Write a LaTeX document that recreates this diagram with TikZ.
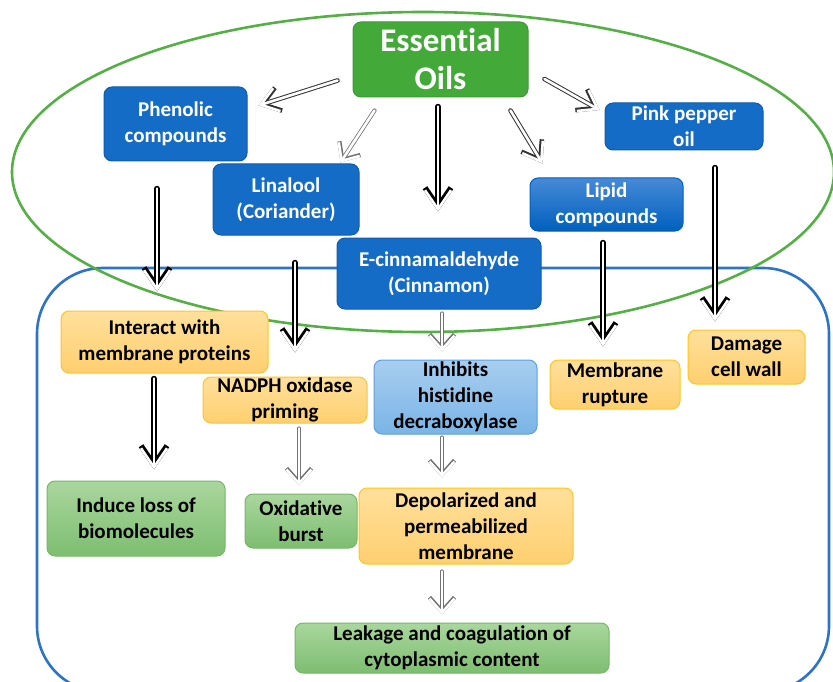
\documentclass[tikz,border=0pt]{standalone}
\usepackage{fontspec}
\setmainfont{Carlito}[Ligatures=NoCommon]
\usetikzlibrary{arrows.meta,calc}
\definecolor{eogreen}{RGB}{67,170,58}
\definecolor{ellgreen}{RGB}{84,176,68}
\definecolor{darkblue}{RGB}{20,108,198}
\definecolor{cellblue}{RGB}{45,115,200}
\definecolor{orgtop}{RGB}{255,224,155}
\definecolor{orgbot}{RGB}{255,207,112}
\definecolor{orgline}{RGB}{255,196,40}
\definecolor{grntop}{RGB}{170,214,158}
\definecolor{grnbot}{RGB}{125,190,112}
\definecolor{grnline}{RGB}{118,184,104}
\definecolor{lbtop}{RGB}{168,206,240}
\definecolor{lbbot}{RGB}{122,180,230}
\definecolor{lbline}{RGB}{95,160,220}
\definecolor{liptop}{RGB}{70,138,215}
\definecolor{lipbot}{RGB}{0,96,190}
\tikzset{
  box/.style={rounded corners=8pt, align=center, inner sep=0pt, line width=1pt,
    font=\bfseries\fontsize{21}{26}\selectfont},
  bluebox/.style={box, fill=darkblue, draw=darkblue!85!black, text=white},
  lipbox/.style={box, top color=liptop, bottom color=lipbot, draw=lipbot, text=white},
  orgbox/.style={box, top color=orgtop, bottom color=orgbot, draw=orgline, text=black},
  grnbox/.style={box, top color=grntop, bottom color=grnbot, draw=grnline, text=black},
  lbbox/.style={box, top color=lbtop, bottom color=lbbot, draw=lbline, text=black},
  blk/.style={line width=5.4pt, draw=black, line cap=round,
    -{Straight Barb[length=19pt,width=26pt]},
    postaction={draw=white, line width=2.6pt, -{Straight Barb[length=19pt,width=26pt]}}},
  mid/.style={line width=4.6pt, draw=black!80, line cap=round,
    -{Straight Barb[length=17pt,width=24pt]},
    postaction={draw=white, line width=2.6pt, -{Straight Barb[length=17pt,width=24pt]}}},
  gry/.style={line width=4.2pt, draw=black!55, line cap=round,
    -{Straight Barb[length=14pt,width=25pt]},
    postaction={draw=white, line width=2.6pt, -{Straight Barb[length=14pt,width=25pt]}}},
}
\begin{document}
\begin{tikzpicture}[x=1pt,y=-1pt]
\useasboundingbox (0,0) rectangle (833,682);
\begin{scope}
\clip (0,0) rectangle (833,682);
\draw[cellblue, line width=2.6pt, rounded corners=66pt] (37,268) rectangle (829,692);
\draw[ellgreen, line width=2.6pt] (423,172) ellipse [x radius=411, y radius=160];
\end{scope}

\node[box, fill=eogreen, draw=eogreen!90!black, text=white, minimum width=175pt, minimum height=75pt,
  font=\bfseries\fontsize{33}{38}\selectfont] (eo) at (440.5,59.5) {Essential\\Oils};
\node[bluebox, minimum width=143pt, minimum height=74pt] (phen) at (175.5,124) {Phenolic\\compounds};
\node[bluebox, minimum width=146pt, minimum height=71pt] (lin) at (286,199.5) {Linalool\\(Coriander)};
\node[bluebox, minimum width=204pt, minimum height=71pt] (ecin) at (439,273.5) {E-cinnamaldehyde\\(Cinnamon)};
\node[lipbox, minimum width=153pt, minimum height=53pt] (lip) at (606.5,204.5) {Lipid\\compounds};
\node[bluebox, minimum width=158pt, minimum height=47pt] (pink) at (684,126.5) {Pink pepper\\oil};
\node[orgbox, minimum width=207pt, minimum height=62pt] (inter) at (164.5,342) {Interact with\\membrane proteins};
\node[orgbox, minimum width=164pt, minimum height=46pt] (nadph) at (285,400) {NADPH oxidase\\priming};
\node[lbbox, minimum width=163pt, minimum height=74pt] (inh) at (455.5,397) {Inhibits\\histidine\\decraboxylase};
\node[orgbox, minimum width=130pt, minimum height=49pt] (rup) at (615,384.5) {Membrane\\rupture};
\node[orgbox, minimum width=117pt, minimum height=54pt] (dam) at (746.5,357) {Damage\\cell wall};
\node[grnbox, minimum width=178pt, minimum height=75pt] (ind) at (136,518.5) {Induce loss of\\biomolecules};
\node[grnbox, minimum width=112pt, minimum height=54pt] (ox) at (301,521) {Oxidative\\burst};
\node[orgbox, minimum width=214pt, minimum height=76pt] (dep) at (466,526) {Depolarized and\\permeabilized\\membrane};
\node[grnbox, minimum width=314pt, minimum height=50pt] (leak) at (452,648) {Leakage and coagulation of\\cytoplasmic content};

\draw[mid] ($(eo.south west)+(-15,-17)$) -- ($(phen.north east)+(11,19)$);
\draw[gry] ($(eo.south west)+(22,13)$) -- ($(lin.north east)+(-19,-1)$);
\draw[blk] ($(eo.south)+(-2.5,9)$) -- ($(ecin.north)+(-1,-26)$);
\draw[mid] ($(eo.south east)+(-18,13)$) -- ($(lip.north west)+(13,-14)$);
\draw[mid] ($(eo.east)+(16,19.5)$) -- ($(pink.west)+(-5,-16.5)$);
\draw[blk] ($(phen.south)+(-18.5,27)$) -- ($(inter.north)+(-7.5,-19)$);
\draw[blk] ($(lin.south)+(9,27)$) -- ($(nadph.north)+(10,-24)$);
\draw[gry] ($(ecin.south)+(3,4)$) -- ($(inh.north)+(-13.5,-8)$);
\draw[blk] ($(lip.south)+(-3.5,11)$) -- ($(rup.north)+(-12,-13)$);
\draw[blk] ($(pink.south)+(31,17)$) -- ($(dam.north)+(-31.5,-8)$);
\draw[blk] ($(inter.south)+(-10.5,5)$) -- ($(ind.north)+(18,-11)$);
\draw[gry] ($(nadph.south)+(14,5)$) -- ($(ox.north)+(-2,-8)$);
\draw[gry] ($(inh.south)+(-13.5,3)$) -- ($(dep.north)+(-24,-10)$);
\draw[gry] ($(dep.south)+(-24,7)$) -- ($(leak.north)+(-10,-8)$);
\end{tikzpicture}
\end{document}
